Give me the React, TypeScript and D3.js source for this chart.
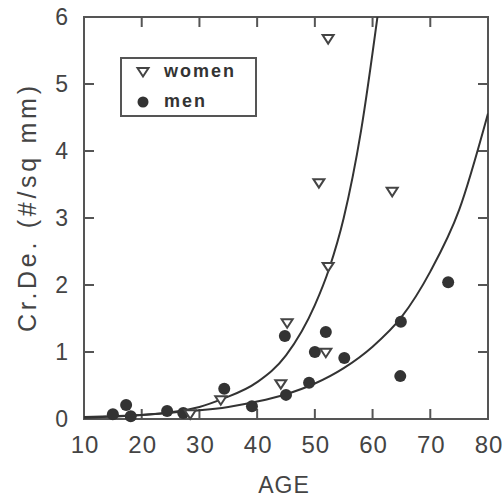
import React from "react";
import * as d3 from "d3";

const xTicks = [10, 20, 30, 40, 50, 60, 70, 80];
const yTicks = [0, 1, 2, 3, 4, 5, 6];

const womenAge = [28.4, 33.7, 44.1, 45.2, 51.9, 52.3, 50.7, 52.3, 63.4];
const womenVal = [0.07, 0.28, 0.52, 1.43, 0.99, 2.27, 3.52, 5.67, 3.39];

const menAge = [15.0, 17.3, 18.1, 24.4, 27.2, 34.3, 39.1, 44.8, 45.0, 49.0, 50.0, 51.9, 55.1, 64.9, 64.8, 73.1];
const menVal = [0.07, 0.21, 0.04, 0.12, 0.09, 0.45, 0.19, 1.24, 0.36, 0.54, 1.0, 1.3, 0.91, 1.45, 0.64, 2.04];

const womenFitAge = [10, 20, 25, 30, 34, 40, 45, 50, 52.5, 55, 58, 61];
const womenFitVal = [0.02, 0.06, 0.1, 0.18, 0.3, 0.55, 0.95, 1.7, 2.25, 3.0, 4.3, 6.1];

const menFitAge = [10, 20, 27, 30, 35, 40, 45, 50, 55, 60, 65, 70, 75, 80];
const menFitVal = [0.03, 0.06, 0.11, 0.13, 0.18, 0.26, 0.37, 0.53, 0.76, 1.08, 1.52, 2.2, 3.12, 4.56];

const legendLabels = ["women", "men"];

const L = 84, R = 488, T = 17, B = 419;

export default function App() {
  const x = d3.scaleLinear().domain([10, 80]).range([L, R]);
  const y = d3.scaleLinear().domain([0, 6]).range([B, T]);
  const line = d3
    .line<[number, number]>()
    .x((d) => x(d[0]))
    .y((d) => y(d[1]))
    .curve(d3.curveMonotoneX);
  const wPts = womenFitAge.map((a, i) => [a, womenFitVal[i]] as [number, number]);
  const mPts = menFitAge.map((a, i) => [a, menFitVal[i]] as [number, number]);
  const tri = (cx: number, cy: number) =>
    `M${cx - 5.5},${cy - 4} L${cx + 5.5},${cy - 4} L${cx},${cy + 4.5} Z`;
  const axisCol = "#555";
  const textCol = "#444";
  const font = "'Liberation Sans', Arial, sans-serif";
  return (
    <svg
      width={502}
      height={497}
      style={{ position: "absolute", left: 0, top: 0, background: "#fff" }}
      fontFamily={font}
    >
      <defs>
        <clipPath id="plot">
          <rect x={L} y={T} width={R - L} height={B - T} />
        </clipPath>
      </defs>
      <rect x={L} y={T} width={R - L} height={B - T} fill="none" stroke={axisCol} strokeWidth={2} />
      {xTicks.map((t) => (
        <g key={"x" + t}>
          <line x1={x(t)} x2={x(t)} y1={B} y2={B - 10} stroke={axisCol} strokeWidth={2} />
          <line x1={x(t)} x2={x(t)} y1={T} y2={T + 10} stroke={axisCol} strokeWidth={2} />
          <text x={x(t) + 1} y={453} textAnchor="middle" fontSize={24} fill={textCol} letterSpacing={1}>
            {t}
          </text>
        </g>
      ))}
      {yTicks.map((t) => (
        <g key={"y" + t}>
          <line x1={L} x2={L + 10} y1={y(t)} y2={y(t)} stroke={axisCol} strokeWidth={2} />
          <line x1={R} x2={R - 10} y1={y(t)} y2={y(t)} stroke={axisCol} strokeWidth={2} />
          <text x={68} y={y(t) + 8} textAnchor="end" fontSize={23} fill={textCol}>
            {t}
          </text>
        </g>
      ))}
      <text x={284} y={493} textAnchor="middle" fontSize={23} fill={textCol} letterSpacing={1}>
        AGE
      </text>
      <text
        transform="translate(36,209) rotate(-90)"
        textAnchor="middle"
        fontSize={25}
        fill={textCol}
        textLength={246}
        lengthAdjust="spacing"
      >
        Cr.De. (#/sq mm)
      </text>
      <g clipPath="url(#plot)">
        <path d={line(wPts) || ""} fill="none" stroke="#333" strokeWidth={2} />
        <path d={line(mPts) || ""} fill="none" stroke="#333" strokeWidth={2} />
      </g>
      {menAge.map((a, i) => (
        <circle key={"m" + i} cx={x(a)} cy={y(menVal[i])} r={6} fill="#333" />
      ))}
      {womenAge.map((a, i) => (
        <path
          key={"w" + i}
          d={tri(x(a), y(womenVal[i]))}
          fill="#fff"
          stroke="#444"
          strokeWidth={2}
          strokeLinejoin="miter"
        />
      ))}
      <rect x={121} y={58} width={135} height={58} fill="#fff" stroke={axisCol} strokeWidth={2} />
      <path d={tri(143, 72)} fill="#fff" stroke="#444" strokeWidth={2} />
      <circle cx={143} cy={102} r={5.5} fill="#333" />
      <text x={164} y={77} fontSize={18} fill="#333" fontWeight={600} letterSpacing={2}>
        {legendLabels[0]}
      </text>
      <text x={164} y={107} fontSize={18} fill="#333" fontWeight={600} letterSpacing={2}>
        {legendLabels[1]}
      </text>
    </svg>
  );
}
